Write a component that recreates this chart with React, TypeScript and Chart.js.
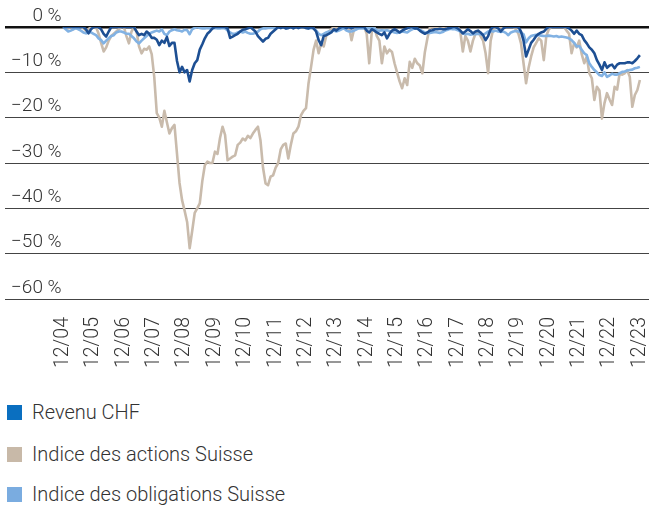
import React, { useEffect, useRef } from "react";
import { Chart, registerables } from "chart.js";

Chart.register(...registerables);

// Month index 0 = 12/2004 ... 228 = 12/2023
const tickMonths = [0, 12, 24, 36, 48, 60, 72, 84, 96, 108, 120, 132, 144, 156, 168, 180, 192, 204, 216, 228];
const tickLabels = ["12/04", "12/05", "12/06", "12/07", "12/08", "12/09", "12/10", "12/11", "12/12", "12/13", "12/14", "12/15", "12/16", "12/17", "12/18", "12/19", "12/20", "12/21", "12/22", "12/23"];
const yTickValues = [0, -10, -20, -30, -40, -50, -60];

const seriesNames = ["Revenu CHF", "Indice des actions Suisse", "Indice des obligations Suisse"];
const lineColors = ["#1d4f93", "#c9bbac", "#82b2e3"];
const legendColors = ["#0a6fc0", "#c8b9a8", "#7aace0"];

const revenuCHF = [
  0, 0, 0, 0, 0, 0, 0, 0, 0, -0.5, -1.4, -0.5,
  0, 0, 0, -0.5, -1.5, -2.1, -1, 0, 0, 0, 0, 0,
  0, 0, 0, 0, 0, -1, -1.8, -1.5, -1.8, -1, -1.5, -2.4,
  -2.4, -2.8, -4, -3, -3.5, -2.2, -4.2, -3.5, -3.5, -7.5, -10, -8.8,
  -10, -9.5, -12, -9.5, -8, -7.3, -5, -3.8, -2.5, -1.5, -1, -0.3,
  0, 0, 0, 0, 0, -0.3, -2.4, -2.1, -1.8, -1.5, -1, -0.6,
  -0.5, -0.3, 0, -0.5, -1, -2, -2.6, -3.2, -2.6, -2.4, -1.5, -1,
  -0.5, 0, -0.2, 0, -0.3, -0.2, 0, -0.3, 0, -0.2, 0, 0,
  -0.2, -0.3, 0, -0.3, -1, -2.9, -4, -2, -1.8, -1.5, -1.2, -0.5,
  -0.8, -0.3, 0, 0, -0.2, 0, -0.3, 0, 0, 0, 0, 0,
  -0.8, -1.2, -0.5, -0.8, -1.2, -1.5, -1.8, -1.2, -2.5, -1.5, -0.8, -0.5,
  -0.8, -1.2, -0.8, -0.5, -0.3, 0, 0, -0.3, -0.3, -0.8, -1.2, -1.5,
  -1.2, -0.8, -0.7, -0.5, -0.5, -0.4, -0.5, -0.5, -0.3, -0.2, 0, 0,
  -0.3, -0.8, -1.4, -1, -0.5, -0.9, -1.4, -1, -0.8, -1.2, -1.8, -2.9,
  -2, -0.5, 0, 0, -0.3, -1, -0.3, 0, 0, 0, 0, 0,
  0, -1, -3, -6.5, -5, -3.5, -2.8, -2, -1.5, -1.2, -1, -0.4,
  0, 0, 0, 0, 0, 0, 0, 0, -0.3, -0.8, -1.5, -0.8,
  -1.5, -1.8, -2.9, -3.6, -4.5, -5, -5.8, -7.3, -8.3, -9.5, -7.8, -9,
  -8.5, -8.3, -9.1, -8.3, -8, -8, -8, -7.8, -7.8, -8, -7.5, -6.9,
  -6.2,
];

const actionsSuisse = [
  0, 0, -0.3, 0, -0.5, 0, 0, 0, -0.3, -0.8, -0.5, 0,
  0, 0, -1.5, -3.5, -5.4, -4.5, -3, -2, -1.5, -1, -0.5, 0,
  0, -2, -3.6, -1, 0, -1, -4.3, -5.8, -4.8, -5, -4.3, -6,
  -11, -19, -20, -22, -18.5, -21, -23.5, -22.3, -21.6, -28, -34.4, -38.2,
  -40.5, -43, -48.8, -45, -41, -40, -38.9, -34, -30.5, -29.7, -30, -30,
  -27.5, -28, -24.5, -22, -23.8, -29.4, -29, -28.6, -28.3, -26, -25.5, -24.6,
  -25, -24, -24.5, -23.5, -22.7, -22, -25, -31, -34.5, -34.9, -33, -32.7,
  -31, -30, -27, -26, -25.7, -29, -26, -23.5, -23, -22, -19.5, -18.5,
  -17.9, -12.4, -8.8, -5, -3, -5.8, -3.6, -4.3, -2, -1, -0.5, 0,
  0, 0, 0, -0.3, -0.5, 0, -2.9, -0.5, 0, 0, 0, 0,
  -1.5, -8, -1, 0, -2, -3, -8, -4.3, -5.8, -5, -5.5, -8,
  -10, -12, -13.5, -11.3, -12.8, -7.7, -9, -7, -8, -8.5, -10.2, -5.5,
  -2.5, 0, 0, 0, -0.3, 0, 0, -0.5, 0, 0, 0, 0,
  0, -1, -5.4, -2, -3, -5.4, -3, -1.5, -1, -2, -3, -5.8,
  -10.2, -3, -0.5, 0, 0, 0, -0.3, 0, 0, 0, 0, -0.5,
  -1.5, -3.6, -8, -12.4, -9, -6.5, -4.5, -3.5, -2.5, -3, -7.3, -2,
  -0.5, 0, 0, 0, 0, 0, 0, -0.8, -1.5, -5.8, -3.5, -4.5,
  -3, -6, -8, -6.5, -10.2, -11.3, -16.1, -13.2, -14, -20.2, -16.8, -14.6,
  -16, -17.2, -13.2, -13.8, -10.2, -10.5, -10.2, -9.5, -11, -17.6, -15, -13.9,
  -11.7,
];

const obligationsSuisse = [
  0, -0.5, -1, -0.8, -0.5, -0.3, -0.5, -0.8, -1.2, -1.4, -1, -1.2,
  -1.5, -1.8, -2.5, -2.9, -3.6, -3, -2.5, -2, -1.8, -1.2, -1, -1,
  -1.2, -1.5, -1.5, -2, -2.5, -3.2, -3.6, -3, -2.5, -2, -1.5, -1.2,
  -1, -0.8, -1, -0.5, -1.5, -1.8, -1, -0.7, -0.5, -0.7, -0.8, -1,
  -0.6, -0.7, -1.6, -0.5, -0.2, 0, -0.2, -0.3, -0.3, -0.2, -0.3, -0.3,
  -0.2, -0.3, -0.3, -0.2, -0.3, -0.8, -1.2, -1.5, -1.5, -1.2, -1, -1.2,
  -1, -1.3, -1.5, -1.5, -1.3, -1, -0.5, -0.3, -0.3, -0.2, -0.2, -0.2,
  -0.2, 0, -0.2, 0, -0.3, -0.2, 0, -0.2, 0, -0.2, 0, 0,
  -0.2, -0.3, -0.2, -0.3, -0.8, -1.5, -1.8, -1.5, -1.2, -1, -1, -0.8,
  -1, -0.8, -0.5, -0.3, -0.8, -1, -1, -0.8, -0.5, -0.3, -0.3, -0.3,
  -0.3, -0.3, -0.3, -0.3, -0.7, -0.8, -0.7, -0.8, -0.7, -0.9, -1, -1.2,
  -1.3, -1.2, -1, -1.1, -1.2, -0.8, -0.5, -0.3, -0.4, -0.6, -0.9, -1.2,
  -1.3, -1.3, -1.2, -1.1, -1.2, -1.3, -1.1, -0.8, -0.6, -0.4, -0.5, -0.5,
  -0.7, -1, -1.4, -1.6, -1.5, -1.7, -1.6, -1.6, -1.5, -1.6, -1.7, -1.4,
  -1, -0.9, -1, -0.8, -1, -1.1, -1, -1.3, -1.8, -1.2, -1, -0.9,
  -1, -1.2, -1.6, -3.4, -2.5, -2, -1.8, -1.7, -1.8, -1.9, -2, -2,
  -1.9, -2, -2.1, -2, -2.2, -2.1, -2.2, -2.3, -2.5, -2.9, -3.5, -4.3,
  -4.2, -5, -5.8, -6.2, -8, -8.8, -9.5, -10, -10.6, -10.8, -10, -11,
  -10.7, -10.3, -10.5, -10.5, -10.2, -9.9, -9.8, -9.6, -9.5, -9.4, -9.1, -9,
  -8.8,
];

const months = revenuCHF.map((_, i) => i);

const FONT = "Roboto, 'Liberation Sans', sans-serif";

function fmtPct(v: number): string {
  return v === 0 ? "0 %" : "\u2212" + Math.abs(v) + " %";
}

export default function App() {
  const ref = useRef<HTMLCanvasElement | null>(null);

  useEffect(() => {
    if (!ref.current) return;
    const toPts = (arr: number[]) => months.map((m, i) => ({ x: m, y: arr[i] }));
    const series = [revenuCHF, actionsSuisse, obligationsSuisse];
    const orders = [0, 2, 1];
    const chart = new Chart(ref.current, {
      type: "line",
      data: {
        datasets: series.map((s, k) => ({
          label: seriesNames[k],
          data: toPts(s),
          borderColor: lineColors[k],
          backgroundColor: lineColors[k],
          borderWidth: 2.6,
          pointRadius: 0,
          tension: 0,
          fill: false,
          order: orders[k],
          borderJoinStyle: "round" as const,
        })),
      },
      options: {
        animation: false,
        responsive: false,
        events: [],
        layout: { padding: { left: -7, right: 0, top: 27, bottom: 0 } },
        plugins: { legend: { display: false }, tooltip: { enabled: false } },
        scales: {
          x: {
            type: "linear",
            min: -23,
            max: 231.6,
            afterBuildTicks: (s: any) => {
              s.ticks = tickMonths.map((v) => ({ value: v }));
            },
            afterFit: (s: any) => {
              s.height = 81;
              s.paddingLeft = 0;
              s.paddingRight = 0;
            },
            border: { display: false },
            grid: { display: false, drawTicks: false },
            ticks: {
              autoSkip: false,
              minRotation: 90,
              maxRotation: 90,
              padding: 18,
              color: "#333",
              font: { family: FONT, size: 19.5, weight: "300" as any },
              callback: (v: any) => {
                const i = tickMonths.indexOf(Number(v));
                return i >= 0 ? tickLabels[i] : "";
              },
            },
          },
          y: {
            min: -60,
            max: 0,
            afterBuildTicks: (s: any) => {
              s.ticks = yTickValues.map((v) => ({ value: v }));
            },
            border: { display: false },
            grid: {
              drawTicks: false,
              color: (ctx: any) => (ctx.tick && ctx.tick.value === 0 ? "#111" : "#444"),
              lineWidth: (ctx: any) => (ctx.tick && ctx.tick.value === 0 ? 2.5 : 1),
            },
            ticks: {
              mirror: true,
              crossAlign: "far",
              padding: 6,
              labelOffset: -11,
              color: "#333",
              font: { family: FONT, size: 19, weight: "300" as any },
              callback: (v: any) => fmtPct(Number(v)),
            },
          },
        },
      },
    });
    return () => chart.destroy();
  }, []);

  const legendTop = [404, 446, 486];

  return (
    <div style={{ position: "absolute", left: 0, top: 0, width: 649, height: 506, background: "#fff", fontFamily: FONT }}>
      <canvas ref={ref} width={649} height={380} style={{ position: "absolute", left: 0, top: 0, width: 649, height: 380 }} />
      {seriesNames.map((name, k) => (
        <div key={name} style={{ position: "absolute", left: 7, top: legendTop[k], height: 16, display: "flex", alignItems: "center" }}>
          <span style={{ display: "inline-block", width: 15, height: 15, background: legendColors[k] }} />
          <span style={{ marginLeft: 10, fontSize: 20, fontWeight: 300, color: "#333", lineHeight: "16px", whiteSpace: "nowrap" }}>{name}</span>
        </div>
      ))}
    </div>
  );
}
